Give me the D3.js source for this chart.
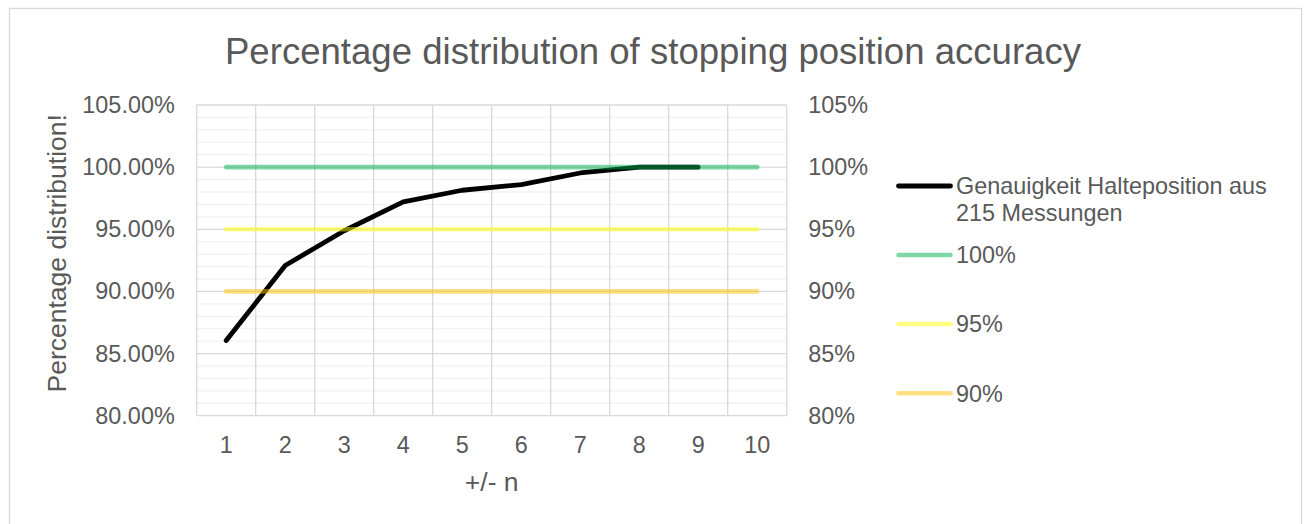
<!DOCTYPE html>
<html>
<head>
<meta charset="utf-8">
<script src="https://cdn.jsdelivr.net/npm/d3@7"></script>
<style>
  html, body { margin: 0; padding: 0; background: #ffffff; }
  svg { display: block; font-family: "Liberation Sans", Arial, sans-serif; }
</style>
</head>
<body>
<svg id="chart" width="1308" height="524"></svg>
<script>
// Tolerance steps on the category axis
const categories = [1, 2, 3, 4, 5, 6, 7, 8, 9, 10];
// Share of 215 stops within +/- n (n = 1..9)
const accuracy = [0.8605, 0.9209, 0.9488, 0.9721, 0.9814, 0.9860, 0.9953, 1.0, 1.0];
// Constant reference levels
const ref100 = [1, 1, 1, 1, 1, 1, 1, 1, 1, 1];
const ref95 = [0.95, 0.95, 0.95, 0.95, 0.95, 0.95, 0.95, 0.95, 0.95, 0.95];
const ref90 = [0.90, 0.90, 0.90, 0.90, 0.90, 0.90, 0.90, 0.90, 0.90, 0.90];
// Axis ticks
const yTicks = [0.80, 0.85, 0.90, 0.95, 1.00, 1.05];
const yMinorTicks = d3.range(80, 106, 1).map(v => v / 100);

const seriesNames = ["Genauigkeit Halteposition aus 215 Messungen", "100%", "95%", "90%"];
const titleText = "Percentage distribution of stopping position accuracy";
const yTitle = "Percentage distribution!";
const xTitle = "+/- n";

const svg = d3.select("#chart");
const textColor = "#595959";
const plot = { left: 196.7, right: 786.7, top: 105, bottom: 415.7 };

// chart frame
svg.append("rect")
  .attr("x", 9.5).attr("y", 8.5)
  .attr("width", 1292).attr("height", 530)
  .attr("fill", "#ffffff").attr("stroke", "#d9d9d9").attr("stroke-width", 1.3);

const x = d3.scaleBand().domain(categories).range([plot.left, plot.right]).padding(0);
const y = d3.scaleLinear().domain([0.80, 1.05]).range([plot.bottom, plot.top]);
const cx = d => x(d) + x.bandwidth() / 2;

// minor horizontal gridlines
svg.append("g").selectAll("line")
  .data(yMinorTicks.filter(v => !yTicks.some(t => Math.abs(t - v) < 1e-9)))
  .join("line")
  .attr("x1", plot.left).attr("x2", plot.right)
  .attr("y1", d => y(d)).attr("y2", d => y(d))
  .attr("stroke", "#f2f2f2").attr("stroke-width", 1.3);

// major horizontal gridlines
svg.append("g").selectAll("line")
  .data(yTicks)
  .join("line")
  .attr("x1", plot.left).attr("x2", plot.right)
  .attr("y1", d => y(d)).attr("y2", d => y(d))
  .attr("stroke", "#d9d9d9").attr("stroke-width", 1.3);

// vertical gridlines on category boundaries
const bounds = categories.map(c => x(c)).concat([plot.right]);
svg.append("g").selectAll("line")
  .data(bounds)
  .join("line")
  .attr("x1", d => d).attr("x2", d => d)
  .attr("y1", plot.top).attr("y2", plot.bottom)
  .attr("stroke", "#d9d9d9").attr("stroke-width", 1.3);

// left axis labels
const leftAxis = d3.axisLeft(y).tickValues(yTicks).tickFormat(d3.format(".2%")).tickSize(0).tickPadding(22);
const gL = svg.append("g").attr("transform", `translate(${plot.left},0)`).call(leftAxis);
gL.select(".domain").remove();
gL.selectAll("text").attr("fill", textColor).attr("font-size", 23.4)
  .attr("font-family", "Liberation Sans, Arial, sans-serif");

// right axis labels
const rightAxis = d3.axisRight(y).tickValues(yTicks).tickFormat(d3.format(".0%")).tickSize(0).tickPadding(21.5);
const gR = svg.append("g").attr("transform", `translate(${plot.right},0)`).call(rightAxis);
gR.select(".domain").remove();
gR.selectAll("text").attr("fill", textColor).attr("font-size", 23.4)
  .attr("font-family", "Liberation Sans, Arial, sans-serif");

// bottom axis labels
const bottomAxis = d3.axisBottom(x).tickSize(0).tickPadding(21);
const gB = svg.append("g").attr("transform", `translate(0,${plot.bottom})`).call(bottomAxis);
gB.select(".domain").remove();
gB.selectAll("text").attr("fill", textColor).attr("font-size", 23.4)
  .attr("font-family", "Liberation Sans, Arial, sans-serif");

// accuracy curve
const line = d3.line().x((d, i) => cx(categories[i])).y(d => y(d));
svg.append("path")
  .datum(accuracy)
  .attr("d", line)
  .attr("fill", "none").attr("stroke", "#000000").attr("stroke-width", 4.8)
  .attr("stroke-linecap", "round").attr("stroke-linejoin", "round");

// translucent reference levels
const refs = [
  { values: ref100, color: "#00B050" },
  { values: ref95, color: "#FFFF00" },
  { values: ref90, color: "#FFC000" }
];
refs.forEach(r => {
  svg.append("path")
    .datum(r.values)
    .attr("d", line)
    .attr("fill", "none").attr("stroke", r.color).attr("stroke-opacity", 0.5)
    .attr("stroke-width", 4.6).attr("stroke-linecap", "round");
});

// title
svg.append("text")
  .attr("x", 653).attr("y", 63.5)
  .attr("text-anchor", "middle")
  .attr("fill", textColor).attr("font-size", 36.6)
  .text(titleText);

// axis titles
svg.append("text")
  .attr("transform", "translate(66,253.3) rotate(-90)")
  .attr("text-anchor", "middle")
  .attr("fill", textColor).attr("font-size", 26.5)
  .text(yTitle);

svg.append("text")
  .attr("x", (plot.left + plot.right) / 2).attr("y", 491)
  .attr("text-anchor", "middle")
  .attr("fill", textColor).attr("font-size", 26.5)
  .text(xTitle);

// legend
const legend = [
  { color: "#000000", opacity: 1, y: 186, lines: ["Genauigkeit Halteposition aus", "215 Messungen"] },
  { color: "#00B050", opacity: 0.5, y: 255, lines: [seriesNames[1]] },
  { color: "#FFFF00", opacity: 0.5, y: 324, lines: [seriesNames[2]] },
  { color: "#FFC000", opacity: 0.5, y: 393.3, lines: [seriesNames[3]] }
];
const lg = svg.append("g");
legend.forEach(item => {
  lg.append("line")
    .attr("x1", 898.5).attr("x2", 950.5)
    .attr("y1", item.y).attr("y2", item.y)
    .attr("stroke", item.color).attr("stroke-opacity", item.opacity)
    .attr("stroke-width", item.color === "#000000" ? 4.8 : 4.6)
    .attr("stroke-linecap", "round");
  const t = lg.append("text")
    .attr("x", 956).attr("y", item.y + 8.3)
    .attr("fill", textColor).attr("font-size", 23.4);
  item.lines.forEach((s, i) => {
    t.append("tspan").attr("x", 956).attr("dy", i === 0 ? 0 : 26.2).text(s);
  });
});
</script>
</body>
</html>
